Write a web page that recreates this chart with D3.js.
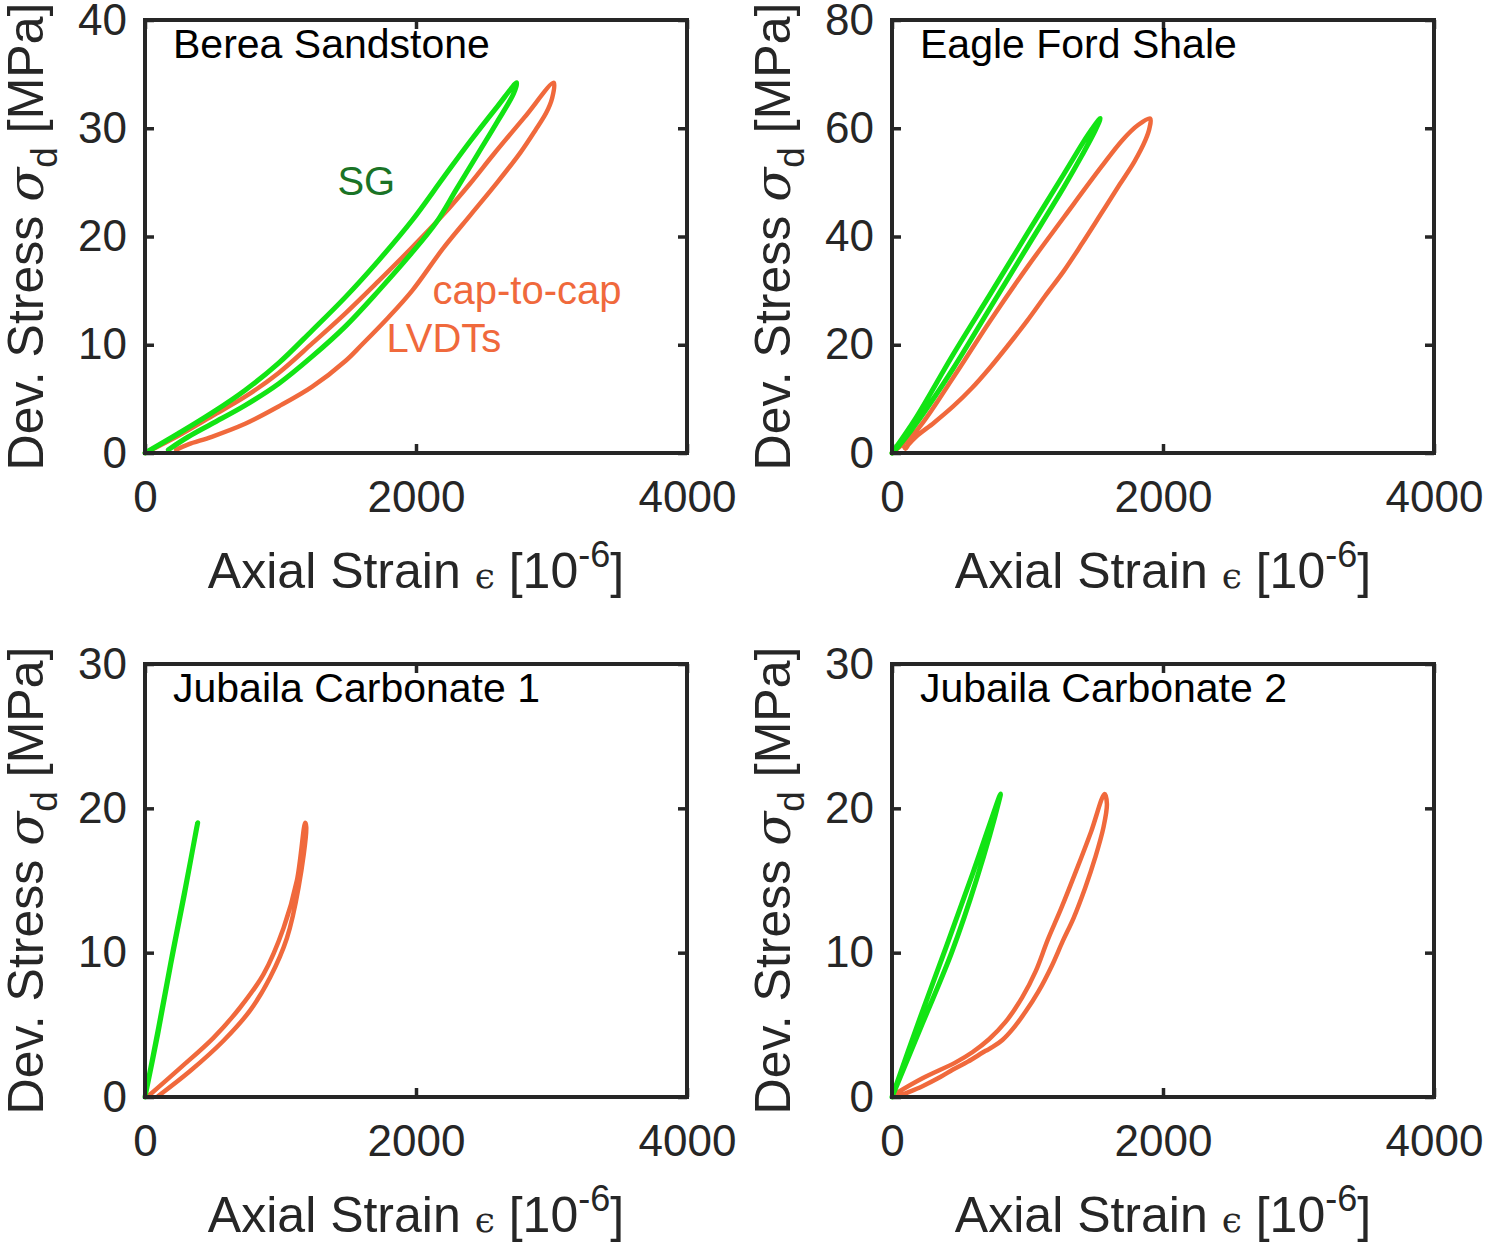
<!DOCTYPE html>
<html lang="en">
<head>
    <meta charset="UTF-8">
    <title>Stress-strain loops</title>
    <script src="https://d3js.org/d3.v7.min.js"></script>
    <style>
    body { margin: 0; background: #fff; }
    text { font-family: "Liberation Sans", Arial, sans-serif; fill: #262626; }
    .axis .domain { display: none; }
    .axis line { stroke: #262626; stroke-width: 3.5; }
    .axis text { font-family: "Liberation Sans", Arial, sans-serif; font-size: 44px; fill: #262626; }
    </style>
</head>
<body>
    <script>
        // ---- data ----
        const panelTitles = ["Berea Sandstone", "Eagle Ford Shale", "Jubaila Carbonate 1", "Jubaila Carbonate 2"];
        const xTicks = [0, 2000, 4000];
        const yMaxes = [40, 80, 30, 30];
        const yTickSets = [[0, 10, 20, 30, 40], [0, 20, 40, 60, 80], [0, 10, 20, 30], [0, 10, 20, 30]];

        // [strain 1e-6, stress MPa], loading branch then unloading branch
        const bereaSG = [[0,0],[246,1.8],[493,3.7],[739,5.8],[986,8.3],[1232,11.3],[1479,14.4],[1725,17.8],[1972,21.5],[2200,25.4],[2400,28.8],[2600,32.0],[2743,34.2],
                         [2720,33.2],[2600,30.6],[2455,27.6],[2300,24.4],[2150,21.3],[1950,18.2],[1725,15.0],[1479,11.7],[1232,8.9],[986,6.4],[739,4.4],[493,2.7],[320,1.5],[172,0.3]];
        const bereaLVDT = [[0,0],[246,1.6],[493,3.4],[739,5.2],[986,7.4],[1232,10.1],[1479,12.9],[1725,15.9],[1972,19.0],[2200,22.0],[2400,24.9],[2573,27.6],[2800,31.0],[3017,34.2],
                           [3005,32.8],[2960,31.4],[2880,29.8],[2773,27.8],[2600,25.0],[2403,22.0],[2200,18.9],[1972,15.0],[1787,12.4],[1600,10.0],[1479,8.5],[1232,6.1],[986,4.3],[739,2.7],[493,1.5],[320,0.8],[230,0.3]];

        const eagleSG = [[0,0],[177,6.5],[451,18.2],[724,29.3],[997,40.5],[1270,51.6],[1450,58.9],[1537,61.8],
                         [1500,59.6],[1400,54.9],[1270,49.2],[997,38.0],[724,26.8],[451,15.6],[177,5.4],[40,1.0],[0,0]];
        const eagleLVDT = [[0,0],[177,4.0],[451,13.9],[724,24.4],[997,34.3],[1270,43.6],[1543,52.8],[1700,57.8],[1816,60.6],[1906,61.8],
                           [1900,60.0],[1870,57.8],[1788,53.8],[1680,49.6],[1543,44.2],[1400,38.6],[1270,33.7],[1130,29.0],[997,24.4],[860,20.0],[724,15.8],[590,12.0],[451,8.6],[310,5.6],[177,3.0],[120,1.5],[100,0.8],[85,1.4]];

        const jub1SG = [[0,0],[100,4.8],[200,9.8],[300,14.6],[389,19.0],
                        [380,18.6],[290,14.0],[190,9.2],[95,4.4],[0,0]];
        const jub1LVDT = [[25,0.07],[259,2.0],[505,4.1],[702,6.2],[874,8.5],[1022,11.7],[1121,15.0],[1182,19.0],
                          [1190,18.7],[1133,14.5],[1047,11.0],[924,8.3],[776,6.0],[579,3.9],[333,1.8],[98,0.07]];

        const jub2SG = [[0,0],[200,5.3],[400,10.4],[600,15.6],[801,21.0],
                        [792,20.6],[625,15.1],[440,10.0],[225,5.1],[0,0]];
        const jub2LVDT = [[20,0.2],[225,1.3],[470,2.4],[593,3.1],[716,4.0],[838,5.2],[961,6.9],[1060,8.7],[1150,10.9],[1250,13.1],[1360,15.7],[1470,18.4],[1569,21.0],
                          [1586,20.3],[1561,18.7],[1500,16.6],[1426,14.5],[1340,12.4],[1260,10.8],[1180,9.1],[1080,7.3],[985,5.9],[890,4.7],[815,3.95],[740,3.45],[691,3.2],[560,2.45],[450,1.9],[360,1.4],[225,0.75],[100,0.25],[50,0.06]];

        const sgSeries = [bereaSG, eagleSG, jub1SG, jub2SG];
        const lvdtSeries = [bereaLVDT, eagleLVDT, jub1LVDT, jub2LVDT];

        // annotations in panel 1, [strain, stress]
        const sgLabel = { text: "SG", at: [1420, 23.8] };
        const lvdtLabels = [{ text: "cap-to-cap", at: [2122, 13.8] }, { text: "LVDTs", at: [1782, 9.3] }];

        // ---- layout ----
        const W = 1486, H = 1244;
        const plotW = 542, plotH = 433;
        const boxes = [{ x: 145, y: 20 }, { x: 892, y: 20 }, { x: 145, y: 664 }, { x: 892, y: 664 }];
        const green = "#12e414", orange = "#f0693c", darkGreen = "#1a7326";

        const svg = d3.select("body").append("svg").attr("width", W).attr("height", H);

        boxes.forEach((b, i) => {
            const g = svg.append("g").attr("transform", `translate(${b.x},${b.y})`);
            const x = d3.scaleLinear().domain([0, 4000]).range([0, plotW]);
            const y = d3.scaleLinear().domain([0, yMaxes[i]]).range([plotH, 0]);

            const line = d3.line()
                .x(d => x(d[0]))
                .y(d => y(d[1]))
                .curve(d3.curveCatmullRom.alpha(0.5));

            // axes (ticks inward on all sides)
            g.append("g").attr("class", "axis")
                .attr("transform", `translate(0,${plotH})`)
                .call(d3.axisBottom(x).tickValues(xTicks).tickFormat(d3.format("d"))
                        .tickSizeInner(-9).tickSizeOuter(0).tickPadding(28))
                .call(a => a.attr("font-family", null).attr("font-size", null));
            g.append("g").attr("class", "axis")
                .call(d3.axisTop(x).tickValues(xTicks).tickSizeInner(-9).tickSizeOuter(0).tickFormat(""));
            g.append("g").attr("class", "axis")
                .call(d3.axisLeft(y).tickValues(yTickSets[i]).tickFormat(d3.format("d"))
                        .tickSizeInner(-9).tickSizeOuter(0).tickPadding(18))
                .call(a => a.attr("font-family", null).attr("font-size", null));
            g.append("g").attr("class", "axis")
                .attr("transform", `translate(${plotW},0)`)
                .call(d3.axisRight(y).tickValues(yTickSets[i]).tickSizeInner(-9).tickSizeOuter(0).tickFormat(""));

            // curves
            g.append("path").datum(lvdtSeries[i])
                .attr("fill", "none").attr("stroke", orange).attr("stroke-width", 4.5)
                .attr("stroke-linejoin", "round").attr("stroke-linecap", "round")
                .attr("d", line);
            g.append("path").datum(sgSeries[i])
                .attr("fill", "none").attr("stroke", green).attr("stroke-width", 5)
                .attr("stroke-linejoin", "round").attr("stroke-linecap", "round")
                .attr("d", line);

            // box
            g.append("rect").attr("width", plotW).attr("height", plotH)
                .attr("fill", "none").attr("stroke", "#262626").attr("stroke-width", 4);

            // panel title
            g.append("text").attr("x", 28).attr("y", 38)
                .attr("font-size", 41).style("fill", "#000")
                .text(panelTitles[i]);

            // x label
            const xl = g.append("text")
                .attr("x", plotW / 2).attr("y", plotH + 135)
                .attr("text-anchor", "middle").attr("font-size", 50);
            xl.append("tspan").text("Axial Strain ");
            xl.append("tspan").attr("font-family", "'DejaVu Serif', serif").attr("font-size", 36).text("\u03f5");
            xl.append("tspan").text(" [10");
            xl.append("tspan").attr("font-size", 36).attr("dy", -21).text("-6");
            xl.append("tspan").attr("dy", 21).text("]");

            // y label
            const yl = g.append("text")
                .attr("transform", `translate(-102,${plotH / 2}) rotate(-90)`)
                .attr("text-anchor", "middle").attr("font-size", 50);
            yl.append("tspan").text("Dev. Stress ");
            yl.append("tspan").attr("font-family", "'DejaVu Serif', serif").attr("font-style", "italic").text("\u03c3");
            yl.append("tspan").attr("font-size", 37).attr("dy", 14).text("d");
            yl.append("tspan").attr("dy", -14).text(" [MPa]");

            if (i === 0) {
                g.append("text").attr("x", x(sgLabel.at[0])).attr("y", y(sgLabel.at[1]))
                    .attr("font-size", 40).style("fill", darkGreen).text(sgLabel.text);
                g.selectAll("text.lvdt").data(lvdtLabels).join("text")
                    .attr("class", "lvdt")
                    .attr("x", d => x(d.at[0])).attr("y", d => y(d.at[1]))
                    .attr("font-size", 40).style("fill", orange).text(d => d.text);
            }
        });
    </script>
</body>
</html>
